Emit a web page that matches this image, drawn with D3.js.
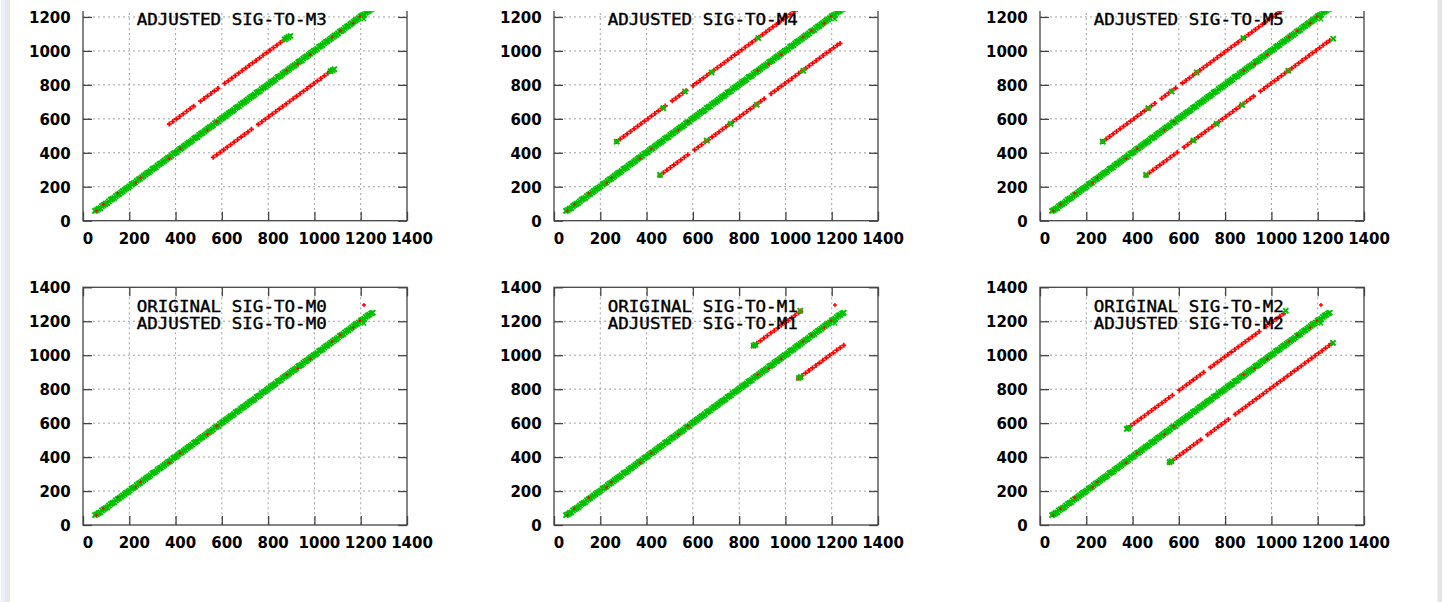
<!DOCTYPE html>
<html><head><meta charset="utf-8">
<script src="https://cdn.jsdelivr.net/npm/d3@7"></script>
<style>
html,body{margin:0;padding:0;background:#fff;}
svg{display:block;}
</style></head>
<body>
<svg id="c" width="1442" height="602"></svg>
<script>
// ---------- DATA ----------
const tickValues = [0, 200, 400, 600, 800, 1000, 1200, 1400];
const panelNames = ["SIG-TO-M3", "SIG-TO-M4", "SIG-TO-M5", "SIG-TO-M0", "SIG-TO-M1", "SIG-TO-M2"];
const seriesNames = ["ORIGINAL", "ADJUSTED"];

// diagonal (matched) points, shared by every panel (adjusted = green)
const diagAdjusted = [[52,58],[67,70],[82,86],[97,99],[112,114],[127,129],[142,145],[157,158],[172,174],[187,190],[202,203],[217,219],[232,235],[247,248],[262,264],[277,280],[292,293],[307,309],[322,325],[337,338],[352,354],[367,370],[382,383],[397,399],[412,415],[427,428],[442,444],[457,460],[472,473],[487,489],[502,505],[517,518],[532,534],[547,550],[562,563],[577,579],[592,595],[607,608],[622,624],[637,640],[652,653],[667,669],[682,685],[697,698],[712,714],[727,730],[742,743],[757,759],[772,775],[787,788],[802,804],[817,820],[832,833],[847,849],[862,865],[877,878],[892,894],[907,910],[922,923],[937,939],[952,955],[967,968],[982,984],[997,1000],[1012,1013],[1027,1029],[1042,1045],[1057,1058],[1072,1074],[1087,1090],[1102,1103],[1117,1119],[1132,1135],[1147,1148],[1162,1164],[1177,1180],[1192,1193],[1207,1209],[1222,1225],[1237,1238],[1252,1250]];
const diagAdjustedB = [[60,63],[75,74],[90,93],[105,104],[120,124],[135,134],[150,153],[165,166],[180,182],[195,195],[210,214],[225,224],[240,243],[255,256],[270,272],[285,285],[300,304],[315,314],[330,333],[345,346],[360,362],[375,375],[390,394],[405,404],[420,423],[435,436],[450,452],[465,465],[480,484],[495,494],[510,513],[525,526],[540,542],[555,555],[570,574],[585,584],[600,603],[615,616],[630,632],[645,645],[660,664],[675,674],[690,693],[705,706],[720,722],[735,735],[750,754],[765,764],[780,783],[795,796],[810,812],[825,825],[840,844],[855,854],[870,873],[885,886],[900,902],[915,915],[930,934],[945,944],[960,963],[975,976],[990,992],[1005,1005],[1020,1024],[1035,1034],[1050,1053],[1065,1066],[1080,1082],[1095,1095],[1110,1114],[1125,1124],[1140,1143],[1155,1156],[1170,1172],[1185,1185],[1200,1204],[1215,1214],[1230,1233],[1245,1246]];
// original points on the diagonal that show through the green band
const diagOriginalVisible = [[58,57],[88,96],[150,162],[228,222],[248,254],[372,366],[420,424],[538,534],[578,584],[880,886],[928,922],[982,978],[1076,1082],[1112,1118],[1168,1162],[1196,1204]];

// M0 : no offset lines
const m0Original = [];
const m0AdjustedExtra = [];

// M1
const m1Original = [[862,1055],[877,1070],[892,1085],[907,1101],[922,1115],[937,1131],[952,1145],[967,1160],[982,1176],[997,1190],[1012,1205],[1027,1221],[1042,1235],[1057,1250],[1066,1260],
  [1057,865],[1072,880],[1087,895],[1102,910],[1117,925],[1132,940],[1147,954],[1162,970],[1177,985],[1192,1000],[1207,1014],[1222,1030],[1237,1044],[1252,1058]];
const m1AdjustedExtra = [[862,1056],[870,1062],[1064,1262],[1058,866],[1066,872]];

// M2
const m2Original = [[377,569],[392,584],[407,599],[422,614],[437,629],[452,644],[467,659],[482,674],[497,689],[512,704],[527,719],[542,734],[557,749],[572,764],[602,794],[617,809],[632,824],[647,839],[662,854],[677,869],[692,884],[707,899],[737,929],[752,944],[767,959],[782,974],[797,989],[812,1004],[827,1019],[842,1034],[857,1049],[872,1064],[887,1079],[902,1094],[917,1109],[932,1124],[947,1139],[977,1169],[992,1184],[1007,1199],[1022,1214],[1037,1229],[1052,1244],
  [559,367],[574,382],[589,397],[604,412],[619,427],[634,442],[649,457],[664,472],[679,487],[694,502],[724,532],[739,547],[754,562],[769,577],[784,592],[799,607],[814,622],[844,652],[859,667],[874,682],[889,697],[904,712],[919,727],[934,742],[949,757],[964,772],[979,787],[994,802],[1009,817],[1024,832],[1039,847],[1054,862],[1069,877],[1084,892],[1099,907],[1114,922],[1129,937],[1144,952],[1159,967],[1174,982],[1189,997],[1204,1012],[1219,1027],[1234,1042],[1249,1057],[1260,1068]];
const m2AdjustedExtra = [[375,566],[383,572],[560,370],[568,376],[1062,1262],[1266,1073]];

// M3
const m3Original = [[373,569],[388,584],[403,599],[418,614],[433,629],[448,644],[463,659],[478,674],[508,704],[523,719],[538,734],[553,749],[568,764],[583,779],[613,809],[628,824],[643,839],[658,854],[673,869],[688,884],[703,899],[718,914],[733,929],[748,944],[763,959],[778,974],[793,989],[808,1004],[823,1019],[838,1034],[853,1049],[868,1064],[880,1076],
  [563,373],[578,388],[593,403],[608,418],[623,433],[638,448],[653,463],[668,478],[683,493],[698,508],[713,523],[728,538],[758,568],[773,583],[788,598],[803,613],[818,628],[833,643],[848,658],[863,673],[878,688],[893,703],[908,718],[923,733],[938,748],[953,763],[968,778],[983,793],[998,808],[1013,823],[1028,838],[1043,853],[1058,868],[1070,880]];
const m3AdjustedExtra = [[872,1068],[880,1076],[888,1082],[896,1088],[1070,880],[1078,886],[1086,892]];

// M4
const m4Original = [[271,466],[286,481],[301,496],[316,511],[331,526],[346,541],[361,556],[376,571],[391,586],[406,601],[421,616],[436,631],[451,646],[466,661],[481,676],[511,706],[526,721],[541,736],[556,751],[571,766],[601,796],[616,811],[631,826],[646,841],[661,856],[676,871],[691,886],[706,901],[721,916],[736,931],[751,946],[766,961],[781,976],[796,991],[811,1006],[826,1021],[841,1036],[856,1051],[871,1066],[886,1081],[901,1096],[916,1111],[931,1126],[946,1141],[961,1156],[976,1171],[991,1186],[1006,1201],[1021,1216],[1036,1231],[1051,1246],[1062,1257],
  [458,268],[473,283],[488,298],[503,313],[518,328],[533,343],[548,358],[563,373],[578,388],[608,418],[623,433],[638,448],[653,463],[668,478],[683,493],[698,508],[713,523],[728,538],[743,553],[758,568],[773,583],[788,598],[803,613],[818,628],[833,643],[848,658],[863,673],[878,688],[893,703],[908,718],[938,748],[953,763],[968,778],[983,793],[998,808],[1013,823],[1028,838],[1043,853],[1058,868],[1073,883],[1088,898],[1103,913],[1118,928],[1133,943],[1148,958],[1163,973],[1178,988],[1193,1003],[1208,1018],[1223,1033],[1236,1044]];
const m4AdjustedExtra = [[271,466],[472,663],[566,761],[681,873],[883,1076],[458,270],[660,472],[763,570],[876,683],[1077,883]];

// M5
const m5Original = [[271,466],[286,481],[301,496],[316,511],[331,526],[346,541],[361,556],[376,571],[391,586],[406,601],[421,616],[436,631],[451,646],[466,661],[481,676],[496,691],[526,721],[541,736],[556,751],[571,766],[586,781],[616,811],[631,826],[646,841],[661,856],[676,871],[691,886],[706,901],[721,916],[736,931],[751,946],[766,961],[781,976],[796,991],[811,1006],[826,1021],[841,1036],[856,1051],[871,1066],[886,1081],[901,1096],[916,1111],[931,1126],[946,1141],[961,1156],[976,1171],[991,1186],[1006,1201],[1021,1216],[1036,1231],[1051,1246],[1062,1257],
  [458,268],[473,283],[488,298],[503,313],[518,328],[533,343],[548,358],[563,373],[578,388],[593,403],[623,433],[638,448],[653,463],[668,478],[683,493],[698,508],[713,523],[728,538],[743,553],[758,568],[773,583],[788,598],[803,613],[818,628],[833,643],[848,658],[863,673],[878,688],[893,703],[908,718],[923,733],[953,763],[968,778],[983,793],[998,808],[1013,823],[1028,838],[1043,853],[1058,868],[1073,883],[1088,898],[1103,913],[1118,928],[1133,943],[1148,958],[1163,973],[1178,988],[1193,1003],[1208,1018],[1223,1033],[1238,1048],[1252,1062]];
const m5AdjustedExtra = [[271,466],[468,663],[569,761],[677,873],[879,1076],[458,270],[663,472],[763,570],[874,682],[1073,883],[1267,1072]];

const originalByPanel = [m3Original, m4Original, m5Original, m0Original, m1Original, m2Original];
const adjustedExtraByPanel = [m3AdjustedExtra, m4AdjustedExtra, m5AdjustedExtra, m0AdjustedExtra, m1AdjustedExtra, m2AdjustedExtra];

// ---------- LAYOUT ----------
const W = 1442, H = 602;
const colLeft = [83, 554, 1040];
const rowBottom = [220.7, 525];
const plotW = 324, plotH = 237.7;
const clipTop = 11;
const RED = "#ff0000", GREEN = "#00c000";

const svg = d3.select("#c");
// page side strips
svg.append("rect").attr("x", 1).attr("y", 0).attr("width", 4).attr("height", H).attr("fill", "#e8f1fc");
svg.append("rect").attr("x", 5).attr("y", 0).attr("width", 5).attr("height", H).attr("fill", "#e7e7e7");
svg.append("rect").attr("x", 1437.5).attr("y", 0).attr("width", 4.5).attr("height", H).attr("fill", "#e4e4e4");

svg.append("clipPath").attr("id", "pageclip").append("rect")
  .attr("x", 10).attr("y", clipTop).attr("width", 1427).attr("height", H - clipTop);
const root = svg.append("g").attr("clip-path", "url(#pageclip)");

const x = d3.scaleLinear().domain([0, 1400]).range([0, plotW]);
const y = d3.scaleLinear().domain([0, 1400]).range([plotH, 0]);

const plusPath = s => `M${-s},0H${s}M0,${-s}V${s}`;
const crossPath = s => `M${-s},${-s}L${s},${s}M${-s},${s}L${s},${-s}`;

panelNames.forEach((name, i) => {
  const col = i % 3, row = Math.floor(i / 3);
  const top = rowBottom[row] - plotH;
  const g = root.append("g").attr("transform", `translate(${colLeft[col]},${top})`);

  // grid
  const grid = g.append("g").attr("stroke", "#a0a0a0").attr("stroke-width", 1).attr("stroke-dasharray", "2,3");
  tickValues.slice(1, -1).forEach(t => {
    grid.append("line").attr("x1", x(t)).attr("x2", x(t)).attr("y1", 0).attr("y2", plotH);
    grid.append("line").attr("x1", 0).attr("x2", plotW).attr("y1", y(t)).attr("y2", y(t));
  });

  // axes
  const styleAxis = sel => {
    sel.select(".domain").remove();
    sel.selectAll(".tick line").attr("stroke", "#444").attr("stroke-width", 1.3);
    sel.selectAll(".tick text").attr("fill", "#000").attr("font-family", "DejaVu Sans").attr("font-weight", "bold").attr("font-size", "15px");
  };
  const ya = g.append("g").call(d3.axisLeft(y).tickValues(tickValues).tickSize(-9).tickPadding(12.3).tickFormat(d3.format("d"))).call(styleAxis);
  ya.selectAll(".tick text").attr("dy", "0.36em");
  // labels that lie above the visible page area are not shown
  ya.selectAll(".tick").filter(d => top + y(d) < clipTop + 3).select("text").remove();
  g.append("g").attr("transform", `translate(0,${plotH})`)
    .call(d3.axisBottom(x).tickValues(tickValues).tickSize(-9).tickPadding(12.4).tickFormat(d3.format("d"))).call(styleAxis)
    .selectAll(".tick text").attr("dx", 4.5);
  g.append("g").attr("transform", `translate(${plotW},0)`)
    .call(d3.axisRight(y).tickValues(tickValues).tickSize(-9).tickFormat("")).call(styleAxis);
  g.append("g").call(d3.axisTop(x).tickValues(tickValues).tickSize(-9).tickFormat("")).call(styleAxis);

  // border
  g.append("rect").attr("x", 0).attr("y", 0).attr("width", plotW).attr("height", plotH)
    .attr("fill", "none").attr("stroke", "#444").attr("stroke-width", 1.3);

  // data
  const orig = originalByPanel[i];
  const adj = diagAdjusted.concat(diagAdjustedB, adjustedExtraByPanel[i]);
  g.append("g").selectAll("path").data(orig).join("path")
    .attr("d", plusPath(2.5)).attr("transform", d => `translate(${x(d[0])},${y(d[1])})`)
    .attr("stroke", RED).attr("stroke-width", 1.8).attr("fill", "none");
  g.append("g").selectAll("path").data(adj).join("path")
    .attr("d", crossPath(2.6)).attr("transform", d => `translate(${x(d[0])},${y(d[1])})`)
    .attr("stroke", GREEN).attr("stroke-width", 2).attr("fill", "none");
  g.append("g").selectAll("path").data(diagOriginalVisible).join("path")
    .attr("d", plusPath(1.4)).attr("transform", d => `translate(${x(d[0])},${y(d[1])})`)
    .attr("stroke", RED).attr("stroke-width", 1.1).attr("fill", "none");

  // key
  const key = g.append("g").attr("font-family", "DejaVu Sans Mono").attr("font-size", "15px")
    .attr("fill", "#000").attr("stroke", "#000").attr("stroke-width", 0.35);
  seriesNames.forEach((s, k) => {
    const base = 24.4 + k * 17.3;
    if (top + base - 11 < clipTop) return; // key line above the visible page area
    key.append("text").attr("transform", `translate(53.7,${base}) scale(1.17,1)`).text(`${s} ${name}`);
  });
  g.append("path").attr("d", plusPath(2)).attr("transform", `translate(281,17.7)`).attr("stroke", RED).attr("stroke-width", 1.4).attr("fill", "none");
  g.append("path").attr("d", crossPath(2.2)).attr("transform", `translate(281,36)`).attr("stroke", GREEN).attr("stroke-width", 1.3).attr("fill", "none");
});
</script>
</body></html>
